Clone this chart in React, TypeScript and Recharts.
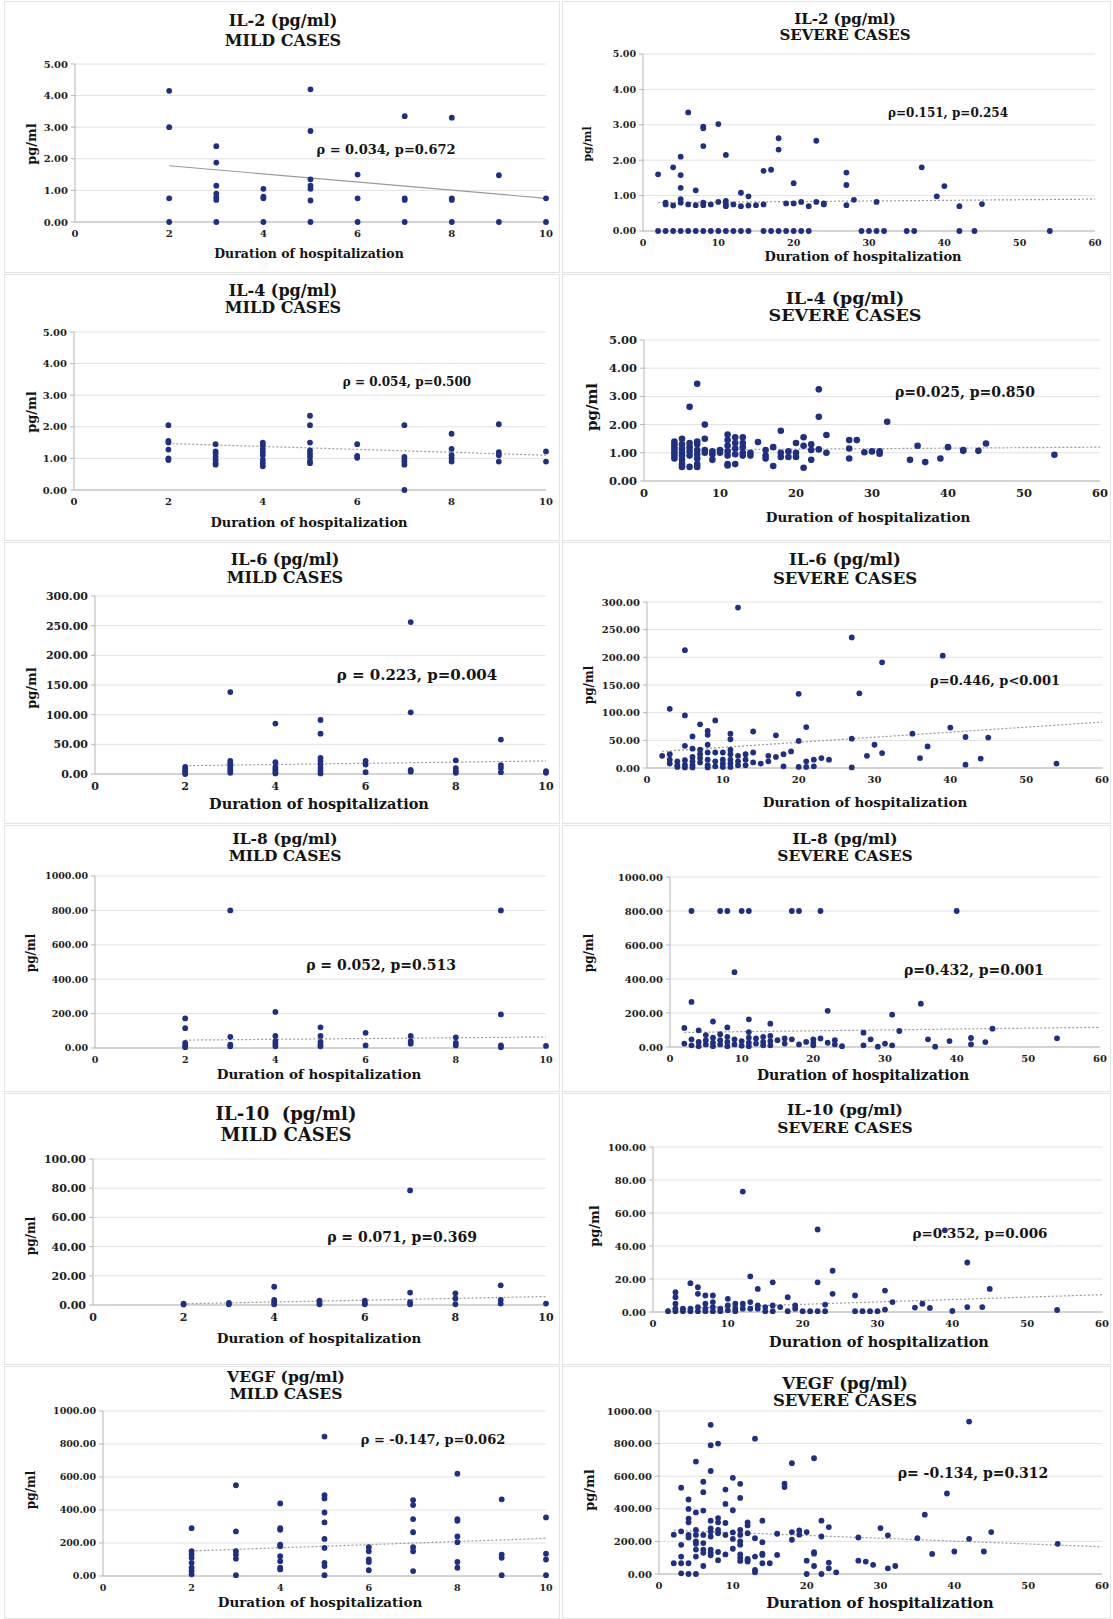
import React from 'react';
import { ScatterChart, Scatter, XAxis, YAxis, CartesianGrid } from 'recharts';

// values: [day, [readings...]]
type Col = [number, number[]];
type Pair = [number, number];

const mildDays = [0, 2, 4, 6, 8, 10];
const severeDays = [0, 10, 20, 30, 40, 50, 60];
const ticks5 = [0, 1, 2, 3, 4, 5];
const ticks100 = [0, 20, 40, 60, 80, 100];
const ticks300 = [0, 50, 100, 150, 200, 250, 300];
const ticks1000 = [0, 200, 400, 600, 800, 1000];

const il2Mild: Col[] = [
  [2, [4.15, 3.0, 0.75, 0]],
  [3, [2.4, 1.88, 1.15, 0.9, 0.78, 0.7, 0]],
  [4, [1.05, 0.8, 0.75, 0]],
  [5, [4.2, 2.88, 1.35, 1.15, 1.05, 0.68, 0]],
  [6, [1.5, 0.75, 0]],
  [7, [3.35, 0.75, 0.7, 0]],
  [8, [3.3, 0.75, 0.7, 0]],
  [9, [1.48, 0]],
  [10, [0.75, 0]],
];
const il2MildTrend: Pair[] = [[2, 1.78], [10, 0.75]];

const il2Severe: Col[] = [
  [2, [1.6, 0]], [3, [0.8, 0.75, 0]], [4, [1.8, 0.72, 0]], [5, [2.1, 1.58, 1.22, 0.9, 0.8, 0]],
  [6, [3.35, 0.75, 0]], [7, [1.15, 0.73, 0]], [8, [2.95, 2.9, 2.4, 0.8, 0.73, 0]], [9, [0.75, 0]],
  [10, [3.02, 0.82, 0]], [11, [2.15, 0.85, 0.75, 0.7, 0]], [12, [0.75, 0]], [13, [1.08, 0.7, 0]],
  [14, [0.98, 0.72, 0]], [15, [0.73]], [16, [1.7, 0.75, 0]], [17, [1.73, 0]], [18, [2.62, 2.3, 0]],
  [19, [0.78, 0]], [20, [1.35, 0.78, 0]], [21, [0.82, 0]], [22, [0.7, 0]], [23, [2.55, 0.82]],
  [24, [0.78, 0.75]], [27, [1.65, 1.3, 0.73]], [28, [0.88]], [29, [0]], [30, [0]], [31, [0.82, 0]],
  [32, [0]], [35, [0]], [36, [0]], [37, [1.8]], [39, [0.98]], [40, [1.27]], [42, [0.7, 0]],
  [44, [0]], [45, [0.76]], [54, [0]],
];
const il2SevereTrend: Pair[] = [[2, 0.8], [60, 0.9]];

const il4Mild: Col[] = [
  [2, [2.05, 1.55, 1.5, 1.28, 1.0, 0.95]],
  [3, [1.45, 1.22, 1.15, 1.05, 0.95, 0.85, 0.8]],
  [4, [1.5, 1.42, 1.3, 1.2, 1.1, 0.95, 0.85, 0.75]],
  [5, [2.35, 2.05, 1.5, 1.25, 1.15, 1.05, 0.92, 0.85]],
  [6, [1.45, 1.08, 1.02]],
  [7, [2.05, 1.05, 0.98, 0.9, 0.8, 0]],
  [8, [1.78, 1.3, 1.1, 1.0, 0.9]],
  [9, [2.08, 1.2, 1.1, 0.9]],
  [10, [1.22, 0.9]],
];
const il4MildTrend: Pair[] = [[2, 1.47], [10, 1.1]];

const il4Severe: Col[] = [
  [4, [1.4, 1.3, 1.2, 1.1, 1.0, 0.9, 0.8]], [5, [1.5, 1.3, 1.15, 1.0, 0.9, 0.75, 0.6, 0.5]],
  [6, [2.63, 1.35, 1.2, 1.05, 0.9, 0.5]], [7, [3.45, 1.4, 1.3, 1.1, 0.95, 0.8, 0.6, 0.5]],
  [8, [2.0, 1.5, 1.1, 1.0]], [9, [1.05, 0.95, 0.75]], [10, [1.1, 1.0]],
  [11, [1.65, 1.45, 1.25, 1.05, 0.9, 0.6, 0.55]], [12, [1.55, 1.35, 1.15, 0.95, 0.6]],
  [13, [1.55, 1.35, 1.2, 1.0, 0.9]], [14, [1.0, 0.9]], [15, [1.38]], [16, [1.1, 0.9, 0.8]],
  [17, [1.2, 0.53]], [18, [1.78, 1.0, 0.85]], [19, [1.05, 0.85]], [20, [1.35, 1.0, 0.85]],
  [21, [1.55, 1.25, 0.47]], [22, [1.3, 1.1, 0.75]], [23, [3.25, 2.28, 1.12]], [24, [1.63, 1.0]],
  [27, [1.45, 1.15, 0.8]], [28, [1.45]], [29, [1.02]], [30, [1.05]], [31, [1.05, 0.97]],
  [32, [2.1]], [35, [0.75]], [36, [1.25]], [37, [0.67]], [39, [0.8]], [40, [1.2]],
  [42, [1.1, 1.07]], [44, [1.07]], [45, [1.33]], [54, [0.93]],
];
const il4SevereTrend: Pair[] = [[4, 1.1], [60, 1.2]];

const il6Mild: Col[] = [
  [2, [12, 8, 5, 2, 0]],
  [3, [138, 22, 18, 14, 10, 6, 2]],
  [4, [85, 20, 12, 8, 4, 1]],
  [5, [91, 68, 27, 22, 16, 10, 5, 1]],
  [6, [22, 16, 3]],
  [7, [256, 104, 7, 4]],
  [8, [23, 10, 5, 2]],
  [9, [58, 15, 10, 3]],
  [10, [5, 2]],
];
const il6MildTrend: Pair[] = [[2, 14], [10, 22]];

const il6Severe: Col[] = [
  [2, [22]], [3, [107, 25, 15, 8]], [4, [12, 5, 2]], [5, [213, 95, 40, 14, 6, 1]],
  [6, [57, 35, 20, 12, 5, 1]], [7, [79, 33, 25, 18, 10]], [8, [67, 60, 42, 28, 15, 5, 1]],
  [9, [86, 28, 12, 3]], [10, [28, 15, 8, 2]], [11, [62, 52, 33, 25, 15, 8, 2]],
  [12, [290, 22, 12, 5]], [13, [25, 15, 5]], [14, [66, 28, 10]], [15, [8]], [16, [22, 12]],
  [17, [59, 20]], [18, [25, 3]], [19, [30]], [20, [134, 49, 2]], [21, [74, 12, 2]],
  [22, [15, 3]], [23, [18]], [24, [15]], [27, [236, 53, 1]], [28, [135]], [29, [22]],
  [30, [42]], [31, [191, 27]], [35, [62]], [36, [18]], [37, [39]], [39, [203]], [40, [73]],
  [42, [56, 6]], [44, [17]], [45, [55]], [54, [8]],
];
const il6SevereTrend: Pair[] = [[2, 30], [60, 83]];

const il8Mild: Col[] = [
  [2, [172, 115, 30, 15, 5]],
  [3, [800, 65, 20, 10]],
  [4, [210, 70, 40, 25, 10]],
  [5, [120, 70, 35, 20, 10]],
  [6, [88, 15]],
  [7, [70, 40, 25]],
  [8, [62, 30, 15]],
  [9, [800, 195, 15, 5]],
  [10, [12]],
];
const il8MildTrend: Pair[] = [[2, 46], [10, 64]];

const il8Severe: Col[] = [
  [2, [112, 20]], [3, [800, 265, 45, 10]], [4, [98, 30, 5]], [5, [70, 40, 15]],
  [6, [150, 55, 25, 5]], [7, [800, 75, 40, 15]], [8, [800, 115, 60, 30, 5]], [9, [440, 45, 15]],
  [10, [800, 35, 8]], [11, [800, 163, 88, 55, 25, 5]], [12, [50, 20]], [13, [60, 30, 10]],
  [14, [137, 65, 35, 10]], [15, [40]], [16, [50, 20]], [17, [800, 45]], [18, [800, 15]],
  [19, [30]], [20, [45, 25, 10]], [21, [800, 50]], [22, [213, 25]], [23, [40, 15]], [24, [5]],
  [27, [84, 10]], [28, [45]], [29, [2]], [30, [20]], [31, [190, 10]], [32, [94]], [35, [255]],
  [36, [45]], [37, [2]], [39, [35]], [40, [800]], [42, [53, 16]], [44, [29]], [45, [108]], [54, [51]],
];
const il8SevereTrend: Pair[] = [[2, 86], [60, 116]];

const il10Mild: Col[] = [
  [2, [1, 0.3]],
  [3, [1.5, 0.5]],
  [4, [12.5, 3.5, 2, 0.5]],
  [5, [3, 2, 0.5]],
  [6, [3, 1.5, 0.5]],
  [7, [78.5, 8.5, 2, 0.5]],
  [8, [8, 4.5, 0.5]],
  [9, [13.5, 3.5, 1]],
  [10, [1]],
];
const il10MildTrend: Pair[] = [[2, 0.8], [10, 5.8]];

const il10Severe: Col[] = [
  [2, [0.5]], [3, [12, 9, 5, 2, 0.5]], [4, [2, 0.5]], [5, [17.5, 2, 0.5]], [6, [15, 11, 3, 0.5]],
  [7, [10, 5, 2, 0.5]], [8, [10, 6, 3, 0.5]], [9, [2, 0.5]], [10, [8, 4, 1]], [11, [5, 2, 0.5]],
  [12, [73, 5, 2]], [13, [21.6, 6, 2]], [14, [14, 4, 2]], [15, [3, 0.5]], [16, [18, 4, 0.5]],
  [17, [3]], [18, [9, 0.5]], [19, [4, 2]], [20, [0.5]], [21, [0.5]], [22, [50, 18, 0.5]],
  [23, [4.5, 0.5]], [24, [25, 11]], [27, [10, 0.5]], [28, [0.5]], [29, [0.5]], [30, [0.5]],
  [31, [13, 1.5]], [32, [6]], [35, [2.7]], [36, [5]], [37, [2.5]], [39, [49.5]], [40, [0.6]],
  [42, [30, 3]], [44, [3]], [45, [14]], [54, [1.2]],
];
const il10SevereTrend: Pair[] = [[2, 2], [60, 10.5]];

const vegfMild: Col[] = [
  [2, [290, 150, 130, 110, 80, 50, 30, 10]],
  [3, [550, 270, 150, 130, 105, 5]],
  [4, [440, 290, 280, 190, 180, 120, 90, 50, 40]],
  [5, [845, 490, 470, 385, 325, 225, 170, 80, 60, 5]],
  [6, [175, 150, 100, 85, 35]],
  [7, [460, 430, 345, 265, 175, 150, 30]],
  [8, [620, 345, 335, 240, 205, 85, 50]],
  [9, [465, 130, 110, 5]],
  [10, [355, 135, 100, 5]],
];
const vegfMildTrend: Pair[] = [[2, 152], [10, 228]];

const vegfSevere: Col[] = [
  [2, [241, 66]], [3, [529, 261, 179, 107, 66, 4]], [4, [457, 399, 340, 317, 240, 224, 66, 0]],
  [5, [690, 378, 270, 240, 200, 185, 150, 107, 0]], [6, [566, 502, 389, 240, 190, 150, 130, 49]],
  [7, [915, 790, 632, 327, 280, 260, 230, 150, 130, 115]], [8, [800, 343, 317, 270, 250, 135, 85]],
  [9, [518, 430, 313, 240, 120]], [10, [590, 391, 255, 215, 155]],
  [11, [553, 467, 270, 240, 200, 180, 120, 100, 80]], [12, [317, 298, 250, 92, 85, 76]],
  [13, [830, 220, 107, 25, 10]], [14, [327, 195, 125, 117, 66]], [15, [66]], [16, [247, 117]],
  [17, [555, 533]], [18, [680, 257, 210]], [19, [267, 241]], [20, [257, 82, 0]],
  [21, [710, 134, 125, 49]], [22, [327, 230, 0]], [23, [288, 70, 35]], [24, [10]],
  [27, [224, 82]], [28, [76]], [29, [56]], [30, [282]], [31, [237, 35]], [32, [49]],
  [35, [220]], [36, [364]], [37, [123]], [39, [494]], [40, [138]], [42, [935, 216]],
  [44, [138]], [45, [257]], [54, [185]],
];
const vegfSevereTrend: Pair[] = [[2, 268], [60, 167]];

const DOT = '#1f2f84';
const FONT = '"DejaVu Serif", serif';

const flat = (cols: Col[]) => cols.flatMap(([x, ys]) => ys.map((y) => ({ x, y })));
const toPts = (pairs: Pair[]) => pairs.map(([x, y]) => ({ x, y }));

interface Spec {
  title: string;
  sub: string;
  note: string;
  data: Col[];
  trend: Pair[];
  xTicks: number[];
  yTicks: number[];
  box: [number, number, number, number]; // x0, x1, top, bottom of plot area
  titleAt: [number, number, number]; // centre x, line1 y, line2 y
  titleFs: number;
  tickFs: number;
  xTitle: [number, number, number];
  yTitle: [number, number, number];
  noteAt: [number, number, number];
  r?: number;
  solidTrend?: boolean;
}

const panels: Spec[] = [
  { title: 'IL-2 (pg/ml)', sub: 'MILD CASES', note: 'ρ = 0.034, p=0.672', data: il2Mild, trend: il2MildTrend,
    xTicks: mildDays, yTicks: ticks5, box: [75, 546, 64, 222], titleAt: [283, 21, 41], titleFs: 16, tickFs: 10,
    xTitle: [309, 254, 12.5], yTitle: [31, 144, 13], noteAt: [386, 149, 13], solidTrend: true },
  { title: 'IL-2 (pg/ml)', sub: 'SEVERE CASES', note: 'ρ=0.151, p=0.254', data: il2Severe, trend: il2SevereTrend,
    xTicks: severeDays, yTicks: ticks5, box: [643, 1095, 54, 231], titleAt: [845, 19, 35], titleFs: 15, tickFs: 9.5,
    xTitle: [863, 256, 13], yTitle: [587, 144, 11], noteAt: [948, 113, 12] },
  { title: 'IL-4 (pg/ml)', sub: 'MILD CASES', note: 'ρ = 0.054, p=0.500', data: il4Mild, trend: il4MildTrend,
    xTicks: mildDays, yTicks: ticks5, box: [74, 546, 332, 490], titleAt: [283, 291, 308], titleFs: 16, tickFs: 10,
    xTitle: [309, 522, 13], yTitle: [31, 412, 13], noteAt: [407, 382, 12] },
  { title: 'IL-4 (pg/ml)', sub: 'SEVERE CASES', note: 'ρ=0.025, p=0.850', data: il4Severe, trend: il4SevereTrend,
    xTicks: severeDays, yTicks: ticks5, box: [644, 1100, 340, 481], titleAt: [845, 299, 316], titleFs: 17.5, tickFs: 11.5,
    xTitle: [868, 518, 13.5], yTitle: [592, 407, 15], noteAt: [965, 392, 14], r: 3.3 },
  { title: 'IL-6 (pg/ml)', sub: 'MILD CASES', note: 'ρ = 0.223, p=0.004', data: il6Mild, trend: il6MildTrend,
    xTicks: mildDays, yTicks: ticks300, box: [95, 546, 596, 774], titleAt: [285, 560, 578], titleFs: 16, tickFs: 11,
    xTitle: [319, 804, 14.5], yTitle: [31, 688, 13], noteAt: [417, 675, 15] },
  { title: 'IL-6 (pg/ml)', sub: 'SEVERE CASES', note: 'ρ=0.446, p<0.001', data: il6Severe, trend: il6SevereTrend,
    xTicks: severeDays, yTicks: ticks300, box: [647, 1102, 602, 768], titleAt: [845, 560, 579], titleFs: 16.5, tickFs: 10,
    xTitle: [865, 803, 13.5], yTitle: [589, 685, 12], noteAt: [995, 680, 13] },
  { title: 'IL-8 (pg/ml)', sub: 'MILD CASES', note: 'ρ = 0.052, p=0.513', data: il8Mild, trend: il8MildTrend,
    xTicks: mildDays, yTicks: ticks1000, box: [95, 546, 876, 1048], titleAt: [285, 839, 856], titleFs: 15.5, tickFs: 9.5,
    xTitle: [319, 1075, 13.5], yTitle: [31, 953, 12], noteAt: [381, 965, 14] },
  { title: 'IL-8 (pg/ml)', sub: 'SEVERE CASES', note: 'ρ=0.432, p=0.001', data: il8Severe, trend: il8SevereTrend,
    xTicks: severeDays, yTicks: ticks1000, box: [670, 1100, 877, 1047], titleAt: [845, 839, 856], titleFs: 15.5, tickFs: 10,
    xTitle: [863, 1075, 14], yTitle: [589, 953, 12], noteAt: [974, 970, 14] },
  { title: 'IL-10\u00a0\u00a0(pg/ml)', sub: 'MILD CASES', note: 'ρ = 0.071, p=0.369', data: il10Mild, trend: il10MildTrend,
    xTicks: mildDays, yTicks: ticks100, box: [93, 546, 1159, 1305], titleAt: [286, 1114, 1135], titleFs: 18, tickFs: 11,
    xTitle: [319, 1339, 13.5], yTitle: [31, 1236, 12], noteAt: [402, 1237, 14] },
  { title: 'IL-10 (pg/ml)', sub: 'SEVERE CASES', note: 'ρ=0.352, p=0.006', data: il10Severe, trend: il10SevereTrend,
    xTicks: severeDays, yTicks: ticks100, box: [653, 1102, 1147, 1312], titleAt: [845, 1110, 1128], titleFs: 15.5, tickFs: 10,
    xTitle: [879, 1342, 14.5], yTitle: [594, 1226, 13], noteAt: [980, 1234, 13.5] },
  { title: 'VEGF (pg/ml)', sub: 'MILD CASES', note: 'ρ = -0.147, p=0.062', data: vegfMild, trend: vegfMildTrend,
    xTicks: mildDays, yTicks: ticks1000, box: [103, 546, 1411, 1576], titleAt: [286, 1377, 1394], titleFs: 15.5, tickFs: 9.5,
    xTitle: [320, 1603, 13.5], yTitle: [31, 1490, 12], noteAt: [433, 1439, 13] },
  { title: 'VEGF (pg/ml)', sub: 'SEVERE CASES', note: 'ρ= -0.134, p=0.312', data: vegfSevere, trend: vegfSevereTrend,
    xTicks: severeDays, yTicks: ticks1000, box: [659, 1102, 1411, 1574], titleAt: [845, 1384, 1401], titleFs: 16.5, tickFs: 10,
    xTitle: [880, 1603, 15], yTitle: [589, 1490, 13], noteAt: [973, 1473, 14] },
];

const rowTops = [0, 273, 541, 824, 1092, 1365, 1619];

function Txt({ x, y, size, children, rotate }: { x: number; y: number; size: number; children: React.ReactNode; rotate?: boolean }) {
  return (
    <div
      style={{
        position: 'absolute',
        left: x,
        top: y,
        transform: `translate(-50%, -50%)${rotate ? ' rotate(-90deg)' : ''}`,
        fontFamily: FONT,
        fontWeight: 700,
        fontSize: size,
        lineHeight: 1,
        whiteSpace: 'nowrap',
        color: '#141414',
      }}
    >
      {children}
    </div>
  );
}

function Panel({ p }: { p: Spec }) {
  const [x0, x1, top, bottom] = p.box;
  const YW = 72;
  const XH = 24;
  const MT = 8;
  const MR = 14;
  const width = x1 - x0 + YW + MR;
  const height = bottom - top + MT + XH;
  const r = p.r ?? 2.9;
  const tick = { fontSize: p.tickFs, fontWeight: 700, fill: '#1e1e1e', fontFamily: FONT };
  return (
    <>
      <div style={{ position: 'absolute', left: x0 - YW, top: top - MT }}>
        <ScatterChart width={width} height={height} margin={{ top: MT, right: MR, left: 0, bottom: 0 }}>
          <CartesianGrid vertical={false} stroke="#e2e2e2" />
          <XAxis
            type="number"
            dataKey="x"
            domain={[p.xTicks[0], p.xTicks[p.xTicks.length - 1]]}
            ticks={p.xTicks}
            interval={0}
            height={XH}
            tickLine={false}
            axisLine={{ stroke: '#b5b5b5' }}
            tick={tick}
          />
          <YAxis
            type="number"
            dataKey="y"
            domain={[0, p.yTicks[p.yTicks.length - 1]]}
            ticks={p.yTicks}
            interval={0}
            width={YW}
            tickSize={4}
            tickMargin={3}
            tickLine={{ stroke: '#b5b5b5' }}
            axisLine={{ stroke: '#b5b5b5' }}
            tick={tick}
            tickFormatter={(v: number) => v.toFixed(2)}
          />
          <Scatter
            data={toPts(p.trend)}
            line={{ stroke: '#9a9a9a', strokeWidth: 1.2, strokeDasharray: p.solidTrend ? undefined : '2 2' }}
            shape={() => <g />}
            isAnimationActive={false}
          />
          <Scatter
            data={flat(p.data)}
            shape={(s: any) => <circle cx={s.cx} cy={s.cy} r={r} fill={DOT} />}
            isAnimationActive={false}
          />
        </ScatterChart>
      </div>
      <Txt x={p.titleAt[0]} y={p.titleAt[1]} size={p.titleFs}>{p.title}</Txt>
      <Txt x={p.titleAt[0]} y={p.titleAt[2]} size={p.titleFs}>{p.sub}</Txt>
      <Txt x={p.xTitle[0]} y={p.xTitle[1]} size={p.xTitle[2]}>Duration of hospitalization</Txt>
      <Txt x={p.yTitle[0]} y={p.yTitle[1]} size={p.yTitle[2]} rotate>pg/ml</Txt>
      <Txt x={p.noteAt[0]} y={p.noteAt[1]} size={p.noteAt[2]}>{p.note}</Txt>
    </>
  );
}

export default function App() {
  return (
    <div style={{ position: 'absolute', left: 0, top: 0, width: 1113, height: 1619, background: '#fff', overflow: 'hidden' }}>
      {rowTops.slice(0, -1).map((t, i) => (
        <React.Fragment key={i}>
          <div style={{ position: 'absolute', left: 4, top: t + 1, width: 554, height: rowTops[i + 1] - t - 3, border: '1px solid #e4e4e4' }} />
          <div style={{ position: 'absolute', left: 562, top: t + 1, width: 547, height: rowTops[i + 1] - t - 3, border: '1px solid #e4e4e4' }} />
        </React.Fragment>
      ))}
      {panels.map((p, i) => (
        <Panel key={i} p={p} />
      ))}
    </div>
  );
}
